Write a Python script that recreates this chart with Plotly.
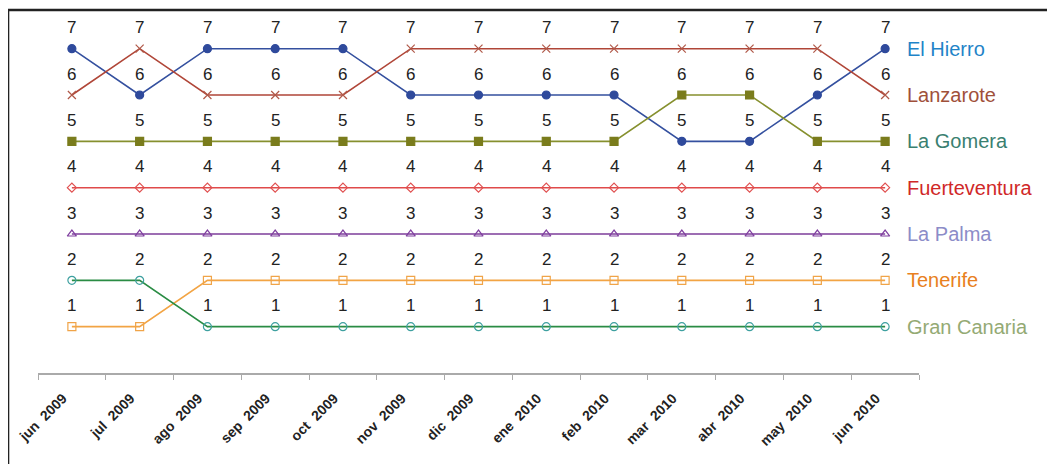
import plotly.graph_objects as go

months = ["jun 2009", "jul 2009", "ago 2009", "sep 2009", "oct 2009", "nov 2009",
          "dic 2009", "ene 2010", "feb 2010", "mar 2010", "abr 2010", "may 2010", "jun 2010"]

islands = ["El Hierro", "Lanzarote", "La Gomera", "Fuerteventura", "La Palma", "Tenerife", "Gran Canaria"]

el_hierro     = [7, 6, 7, 7, 7, 6, 6, 6, 6, 5, 5, 6, 7]
lanzarote     = [6, 7, 6, 6, 6, 7, 7, 7, 7, 7, 7, 7, 6]
la_gomera     = [5, 5, 5, 5, 5, 5, 5, 5, 5, 6, 6, 5, 5]
fuerteventura = [4, 4, 4, 4, 4, 4, 4, 4, 4, 4, 4, 4, 4]
la_palma      = [3, 3, 3, 3, 3, 3, 3, 3, 3, 3, 3, 3, 3]
tenerife      = [1, 1, 2, 2, 2, 2, 2, 2, 2, 2, 2, 2, 2]
gran_canaria  = [2, 2, 1, 1, 1, 1, 1, 1, 1, 1, 1, 1, 1]

series = [el_hierro, lanzarote, la_gomera, fuerteventura, la_palma, tenerife, gran_canaria]

line_colors = ["#34509f", "#b04638", "#86902e", "#e04a4a", "#7c3c9a", "#f2a444", "#2a8c44"]
marker_colors = ["#2f4a9c", "#b05848", "#7a7c1c", "#e05050", "#8040a0", "#f0a448", "#3ea0a0"]
marker_symbols = ["circle", "x-thin-open", "square", "diamond-open", "triangle-up-open", "square-open", "circle-open"]
marker_sizes = [8, 8, 8, 7, 8, 8, 8]
label_colors = ["#1f84c8", "#a0503a", "#3a8070", "#d02828", "#8c8cc8", "#e88020", "#94aa74"]

tick_labels = [m.replace(" ", "\u00a0\u00a0") for m in months]

fig = go.Figure()
for name, vals, lc, mc, ms, sz in zip(islands, series, line_colors, marker_colors, marker_symbols, marker_sizes):
    fig.add_trace(go.Scatter(
        x=months, y=vals, name=name, mode="lines+markers",
        line=dict(color=lc, width=1.6),
        marker=dict(symbol=ms, size=sz, color=mc, line=dict(color=mc, width=1.2)),
        showlegend=False,
    ))

annotations = []
for vals in series:
    for m, v in zip(months, vals):
        annotations.append(dict(x=m, y=v, xref="x", yref="y", text=str(v), showarrow=False,
                                yshift=21, font=dict(family="Arial, Liberation Sans", size=17, color="#222222")))
for name, vals, col in zip(islands, series, label_colors):
    annotations.append(dict(x=0.984, y=vals[-1], xref="paper", yref="y", text=name, showarrow=False,
                            xanchor="left", yanchor="middle",
                            font=dict(family="Arial, Liberation Sans", size=20, color=col)))

fig.update_layout(
    width=1047, height=456,
    margin=dict(l=30, r=136, t=2, b=91),
    paper_bgcolor="white", plot_bgcolor="white",
    annotations=annotations,
    shapes=[dict(type="rect", xref="paper", yref="paper", x0=-0.034, x1=1.2, y0=-0.4, y1=1.0,
                 line=dict(color="#222222", width=2.5), layer="above")],
    xaxis=dict(type="category", categoryorder="array", categoryarray=months,
               tickvals=months, ticktext=tick_labels,
               range=[-0.5, 12.5], tickson="boundaries", ticks="outside", ticklen=5,
               tickcolor="#aaaaaa", showline=True, linecolor="#aaaaaa", linewidth=1.5,
               showgrid=False, zeroline=False, tickangle=-45,
               ticklabelstandoff=10, ticklabelshift=-9,
               tickfont=dict(family="Arial, Liberation Sans", size=14, color="#222222", weight="bold")),
    yaxis=dict(range=[0, 7.835], visible=False, showgrid=False, zeroline=False),
)

fig.write_html("out.html")
